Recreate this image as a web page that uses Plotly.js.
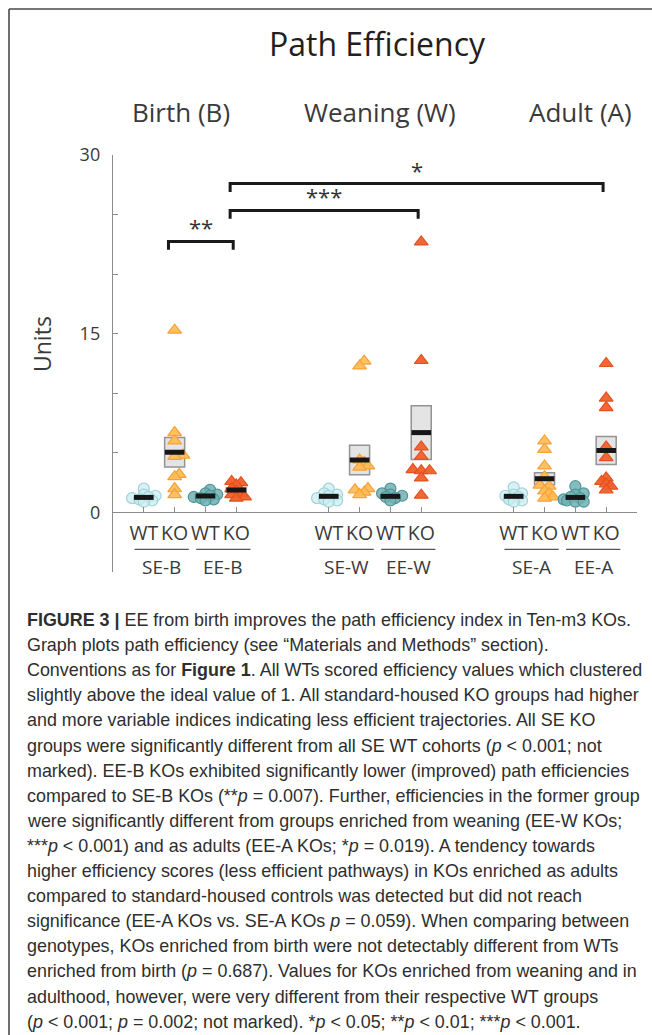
<!DOCTYPE html>
<html><head><meta charset="utf-8">
<script src="https://cdn.plot.ly/plotly-3.0.1.min.js"></script>
<style>html,body{margin:0;padding:0;background:#fff;}#chart{width:652px;height:1035px;}</style>
</head><body><div id="chart"></div>
<script>
// ---------------- DATA ----------------
const periodLabels = ['Birth (B)', 'Weaning (W)', 'Adult (A)'];
const groupLabels = ['SE-B', 'EE-B', 'SE-W', 'EE-W', 'SE-A', 'EE-A'];
const genotypeLabels = ['WT', 'KO'];

// individual values (Units)
const seB_WT = [2.0, 1.5, 1.4, 1.3, 1.2, 1.1, 1.0, 0.9];
const seB_KO = [15.3, 6.7, 6.0, 4.8, 4.7, 3.2, 3.0, 2.0, 1.5];
const eeB_WT = [1.9, 1.6, 1.5, 1.4, 1.3, 1.2, 1.1, 1.0];
const eeB_KO = [2.6, 2.5, 2.3, 2.0, 1.8, 1.6, 1.5, 1.3, 1.2];
const seW_WT = [2.0, 1.6, 1.5, 1.4, 1.2, 1.1, 1.0, 0.9];
const seW_KO = [12.7, 12.3, 4.4, 4.2, 3.9, 3.8, 2.0, 1.9, 1.7, 1.5];
const eeW_WT = [2.0, 1.6, 1.5, 1.4, 1.3, 1.2, 1.0];
const eeW_KO = [22.7, 12.75, 5.5, 4.7, 3.6, 3.5, 3.5, 2.9, 1.45];
const seA_WT = [2.1, 1.6, 1.5, 1.4, 1.3, 1.1, 1.0, 0.9];
const seA_KO = [6.0, 5.3, 3.9, 3.0, 2.3, 2.2, 1.8, 1.6, 1.3, 1.2];
const eeA_WT = [2.2, 1.6, 1.5, 1.3, 1.2, 1.1, 1.0, 0.9, 0.9];
const eeA_KO = [12.5, 9.6, 8.8, 5.5, 4.6, 2.9, 2.6, 2.4, 2.2, 1.9];

// group means and SEM, in cohort order SE-B WT, SE-B KO, EE-B WT, EE-B KO, SE-W ..., EE-A KO
const groupMeans = [1.26, 5.05, 1.38, 1.88, 1.35, 4.4, 1.35, 6.7, 1.35, 2.83, 1.26, 5.2];
const groupSEM   = [0.1, 1.23, 0.1, 0.17, 0.1, 1.24, 0.1, 2.25, 0.1, 0.5, 0.1, 1.17];

// significance comparisons: [from cohort index, to cohort index]
const sigFrom = [1, 3, 3];
const sigTo = [3, 7, 11];
const sigLevel = [22.75, 25.35, 27.6];
const sigText = ['**', '***', '*'];

const captionLines = [
  '<b>FIGURE 3 |</b> EE from birth improves the path efficiency index in Ten-m3 KOs.',
  'Graph plots path efficiency (see \u201cMaterials and Methods\u201d section).',
  'Conventions as for <b>Figure 1</b>. All WTs scored efficiency values which clustered',
  'slightly above the ideal value of 1. All standard-housed KO groups had higher',
  'and more variable indices indicating less efficient trajectories. All SE KO',
  'groups were significantly different from all SE WT cohorts (<i>p</i> &lt; 0.001; not',
  'marked). EE-B KOs exhibited significantly lower (improved) path efficiencies',
  'compared to SE-B KOs (**<i>p</i> = 0.007). Further, efficiencies in the former group',
  'were significantly different from groups enriched from weaning (EE-W KOs;',
  '***<i>p</i> &lt; 0.001) and as adults (EE-A KOs; *<i>p</i> = 0.019). A tendency towards',
  'higher efficiency scores (less efficient pathways) in KOs enriched as adults',
  'compared to standard-housed controls was detected but did not reach',
  'significance (EE-A KOs vs. SE-A KOs <i>p</i> = 0.059). When comparing between',
  'genotypes, KOs enriched from birth were not detectably different from WTs',
  'enriched from birth (<i>p</i> = 0.687). Values for KOs enriched from weaning and in',
  'adulthood, however, were very different from their respective WT groups',
  '(<i>p</i> &lt; 0.001; <i>p</i> = 0.002; not marked). *<i>p</i> &lt; 0.05; **<i>p</i> &lt; 0.01; ***<i>p</i> &lt; 0.001.'
];

// ---------------- LAYOUT HELPERS ----------------
const W = 652, H = 1035;
const M = {l: 113, r: 15, t: 155, b: 463};
const plotW = W - M.l - M.r, plotH = H - M.t - M.b;
const XR = [0, 17], YR = [-5, 30];
const pxX = px => (px - M.l) / plotW;          // page px -> paper x
const pxY = py => (H - M.b - py) / plotH;      // page px -> paper y
const unitPxX = plotW / (XR[1] - XR[0]);
const unitPxY = plotH / (YR[1] - YR[0]);

const cohorts = [seB_WT, seB_KO, eeB_WT, eeB_KO, seW_WT, seW_KO, eeW_WT, eeW_KO, seA_WT, seA_KO, eeA_WT, eeA_KO];
// category position: period p, housing h (SE=0, EE=1), genotype g (WT=0, KO=1)
const cohortPos = cohorts.map((_, i) => {
  const p = Math.floor(i / 4), h = Math.floor((i % 4) / 2), g = i % 2;
  return 1 + 6 * p + 2 * h + g;
});

// simple beeswarm to spread overlapping points horizontally
function swarm(vals, center) {
  const placed = [], res = new Array(vals.length);
  const order = vals.map((v, i) => i).sort((a, b) => vals[a] - vals[b]);
  const cands = [0, 0.15, -0.15, 0.27, -0.27, 0.38, -0.38];
  order.forEach(i => {
    const v = vals[i];
    let chosen = cands[cands.length - 1];
    for (const dx of cands) {
      const ok = placed.every(p => Math.hypot((p.dx - dx) * unitPxX, (p.v - v) * unitPxY) >= 5);
      if (ok) { chosen = dx; break; }
    }
    placed.push({dx: chosen, v});
    res[i] = center + chosen;
  });
  return res;
}

const FONT = 'Open Sans, Noto Sans, sans-serif';
const TXT = '#3a3a3a';
const AX = '#8c8c8c';

const styles = [
  {sym: 'circle', size: 11, fill: 'rgba(201,236,240,0.75)', line: '#9fd3da'},        // SE WT
  {sym: 'triangle-up', size: 12, fill: 'rgba(253,188,84,0.92)', line: '#f7a13a'},    // SE KO
  {sym: 'circle', size: 11, fill: 'rgba(112,178,180,0.85)', line: '#4f9597'},        // EE WT
  {sym: 'triangle-up', size: 12, fill: 'rgba(240,96,44,0.95)', line: '#e2521f'}      // EE KO
];

const traces = [];
// SEM boxes
traces.push({
  type: 'bar', x: cohortPos, y: groupSEM.map(s => 2 * s), base: groupMeans.map((m, i) => m - groupSEM[i]),
  width: 0.65, marker: {color: '#e4e4e4', line: {color: '#939393', width: 1.5}},
  hoverinfo: 'skip', showlegend: false
});
// points, grouped by style
for (let s = 0; s < 4; s++) {
  const xs = [], ys = [];
  cohorts.forEach((vals, i) => {
    if (i % 4 !== s) return;
    const jx = swarm(vals, cohortPos[i]);
    vals.forEach((v, k) => { xs.push(jx[k]); ys.push(v); });
  });
  const st = styles[s];
  traces.push({
    type: 'scatter', mode: 'markers', x: xs, y: ys, cliponaxis: false,
    marker: {symbol: st.sym, size: st.size, color: st.fill, line: {color: st.line, width: 1.2}},
    showlegend: false, hoverinfo: 'y'
  });
}
// mean bars
traces.push({
  type: 'scatter', mode: 'markers', x: cohortPos, y: groupMeans,
  marker: {symbol: 'line-ew', size: 14, line: {color: '#161616', width: 5}},
  showlegend: false, hoverinfo: 'y'
});
// significance brackets
const bx = [], by = [];
const legLen = 0.7;
sigFrom.forEach((f, i) => {
  const x0 = cohortPos[f] - 0.2, x1 = cohortPos[sigTo[i]] - 0.1, yv = sigLevel[i];
  bx.push(x0, x0, x1, x1, null);
  by.push(yv - legLen, yv, yv, yv - legLen, null);
});
traces.push({
  type: 'scatter', mode: 'lines', x: bx, y: by, cliponaxis: false,
  line: {color: '#1a1a1a', width: 3}, showlegend: false, hoverinfo: 'skip'
});

const annotations = [];
sigFrom.forEach((f, i) => {
  annotations.push({
    xref: 'x', yref: 'y', x: (cohortPos[f] - 0.2 + cohortPos[sigTo[i]] - 0.1) / 2, y: sigLevel[i],
    yanchor: 'bottom', yshift: -3, showarrow: false, text: sigText[i],
    font: {family: FONT, size: 22, color: '#333'}
  });
});
// period headers
const periodPx = [181, 380, 580];
periodLabels.forEach((t, i) => annotations.push({
  xref: 'paper', yref: 'paper', x: pxX(periodPx[i]), y: pxY(112), xanchor: 'center', yanchor: 'middle',
  showarrow: false, text: t, font: {family: FONT, size: 26, color: TXT}
}));
// group labels and underlines
const shapes = [];
groupLabels.forEach((t, i) => {
  const c = (cohortPos[2 * i] + cohortPos[2 * i + 1]) / 2 + 0.08;
  shapes.push({type: 'line', xref: 'x', yref: 'y', x0: c - 0.88, x1: c + 0.88, y0: -3.1, y1: -3.1,
    line: {color: '#555', width: 1.3}});
  annotations.push({xref: 'x', yref: 'y', x: c, y: -4.55, yanchor: 'middle', showarrow: false,
    text: t, font: {family: FONT, size: 19, color: TXT}});
});
// y axis title
annotations.push({xref: 'paper', yref: 'paper', x: pxX(42), y: pxY(344), textangle: -90,
  xanchor: 'center', yanchor: 'middle', showarrow: false, text: 'Units',
  font: {family: FONT, size: 23, color: TXT}});
// caption
captionLines.forEach((t, i) => annotations.push({
  xref: 'paper', yref: 'paper', x: pxX(25), y: pxY(620 + 25.1 * i), xanchor: 'left', yanchor: 'middle',
  align: 'left', showarrow: false, text: t,
  font: {family: 'Liberation Sans, Arial, sans-serif', size: 17.9, color: '#2e2e2e'}
}));
// frame
shapes.push({type: 'line', xref: 'paper', yref: 'paper', x0: pxX(9), x1: pxX(652), y0: pxY(9), y1: pxY(9),
  line: {color: '#4a4a4a', width: 1.6}});
shapes.push({type: 'line', xref: 'paper', yref: 'paper', x0: pxX(9), x1: pxX(9), y0: pxY(9), y1: pxY(1035),
  line: {color: '#4a4a4a', width: 1.6}});

const tickText = cohortPos.map((_, i) => genotypeLabels[i % 2]);
const yTicks = [-5, 0, 5, 10, 15, 20, 25, 30];
const yTickText = yTicks.map(v => (v === 0 || v === 15 || v === 30) ? String(v) : '');

const layout = {
  width: W, height: H, margin: M, paper_bgcolor: '#fff', plot_bgcolor: 'rgba(0,0,0,0)',
  barmode: 'overlay', showlegend: false,
  title: {text: 'Path Efficiency', x: 377 / W, xanchor: 'center', xref: 'container',
    y: 1 - 45 / H, yanchor: 'middle', yref: 'container', font: {family: FONT, size: 32, color: '#231f20'}},
  xaxis: {range: XR, anchor: 'free', position: (0 - YR[0]) / (YR[1] - YR[0]), showline: false, zeroline: false,
    showgrid: false, ticks: 'inside', ticklen: 5, tickwidth: 1.2, tickcolor: AX,
    tickvals: cohortPos, ticktext: tickText, tickfont: {family: FONT, size: 19.5, color: TXT},
    ticklabelstandoff: 7, fixedrange: true},
  yaxis: {range: YR, showline: true, linecolor: AX, linewidth: 1.2, ticks: 'inside', ticklen: 5,
    tickwidth: 1.2, tickcolor: AX, tickvals: yTicks, ticktext: yTickText,
    tickfont: {family: FONT, size: 18, color: TXT}, ticklabelstandoff: 8, showgrid: false,
    zeroline: true, zerolinecolor: AX, zerolinewidth: 1.2, fixedrange: true},
  annotations, shapes
};

Plotly.newPlot('chart', traces, layout, {displayModeBar: false, staticPlot: true});
</script></body></html>
